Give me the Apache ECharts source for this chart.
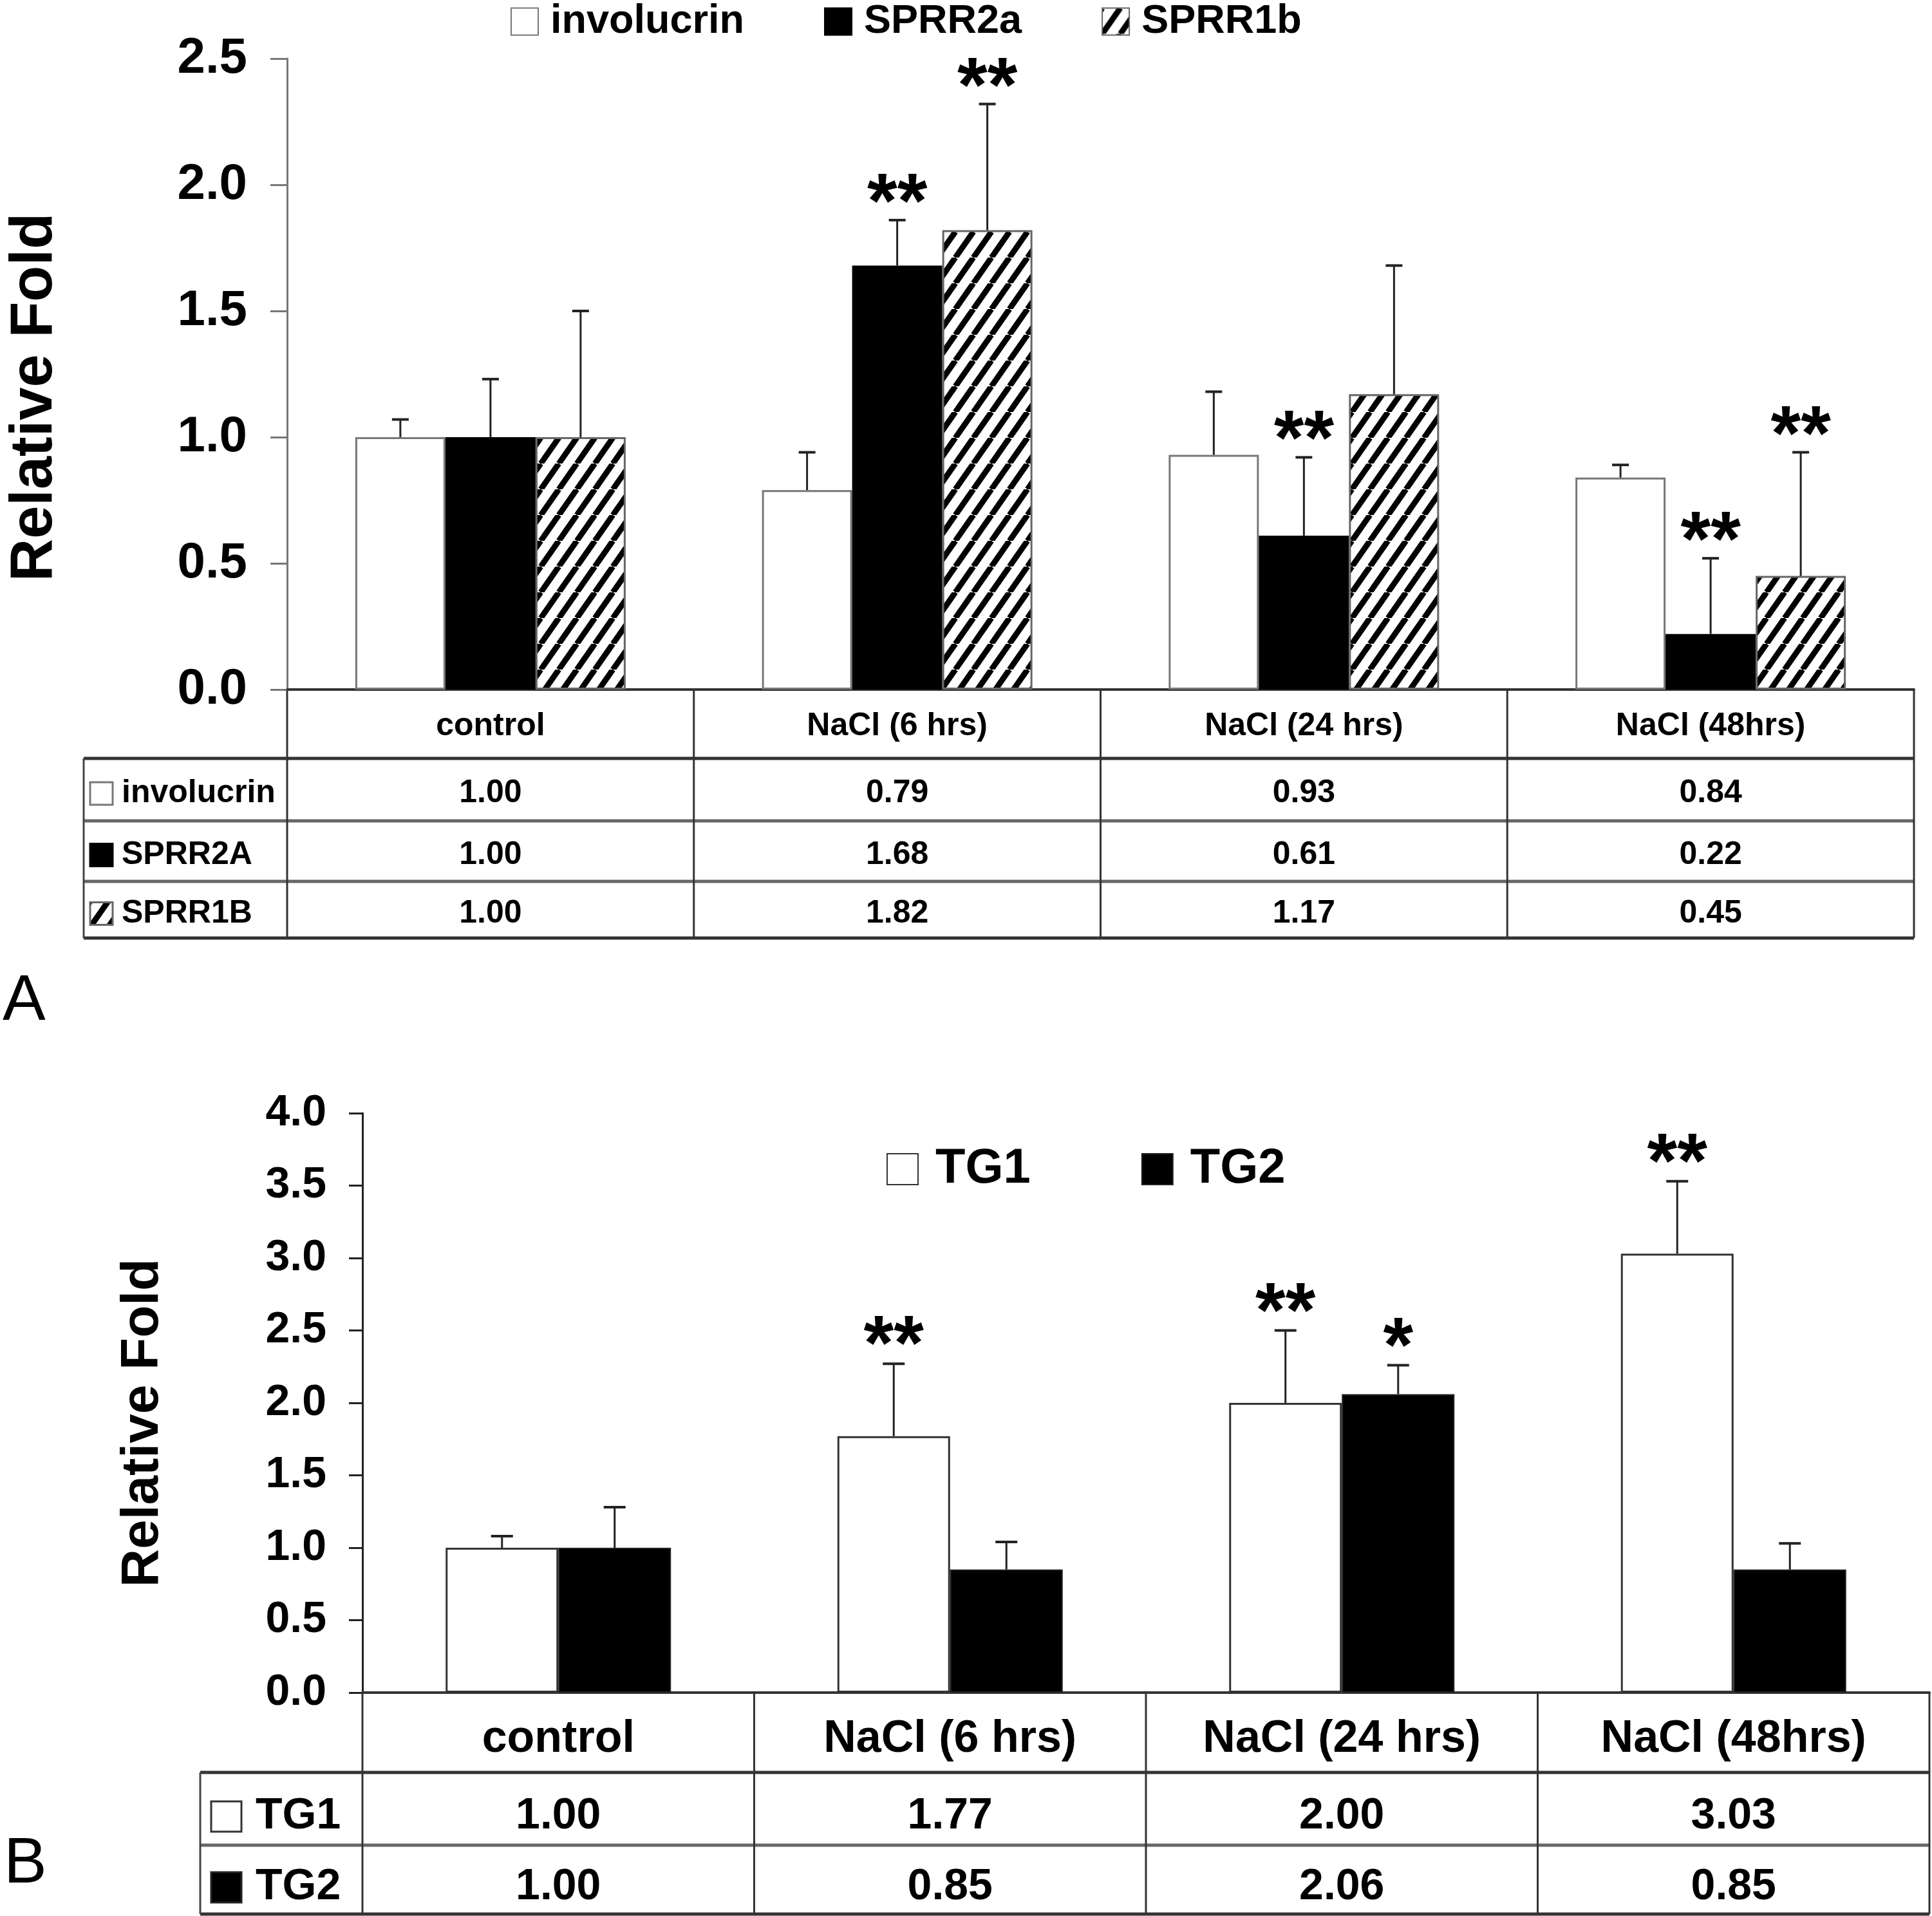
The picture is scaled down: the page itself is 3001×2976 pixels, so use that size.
<!DOCTYPE html>
<html><head><meta charset="utf-8">
<script src="https://cdn.jsdelivr.net/npm/echarts@6/dist/echarts.min.js"></script>
<style>html,body{margin:0;padding:0;background:#fff}#c{width:3001px;height:2976px}</style>
</head><body><div id="c"></div>
<script>
// ---------- data ----------
const categories = ['control', 'NaCl (6 hrs)', 'NaCl (24 hrs)', 'NaCl (48hrs)'];
const legendA = ['involucrin', 'SPRR2a', 'SPRR1b'];
const rowLabelsA = ['involucrin', 'SPRR2A', 'SPRR1B'];
const involucrin = [1.00, 0.79, 0.93, 0.84];
const sprr2a = [1.00, 1.68, 0.61, 0.22];
const sprr1b = [1.00, 1.82, 1.17, 0.45];
const involucrinErrTop = [1.07, 0.94, 1.18, 0.89];
const sprr2aErrTop = [1.23, 1.86, 0.92, 0.52];
const sprr1bErrTop = [1.50, 2.32, 1.68, 0.94];
const involucrinSig = ['', '', '', ''];
const sprr2aSig = ['', '**', '**', '**'];
const sprr1bSig = ['', '**', '', '**'];
const yMaxA = 2.5, yStepA = 0.5;

const legendB = ['TG1', 'TG2'];
const tg1 = [1.00, 1.77, 2.00, 3.03];
const tg2 = [1.00, 0.85, 2.06, 0.85];
const tg1ErrTop = [1.08, 2.27, 2.50, 3.53];
const tg2ErrTop = [1.28, 1.04, 2.26, 1.03];
const tg1Sig = ['', '**', '**', '**'];
const tg2Sig = ['', '', '*', ''];
const yMaxB = 4.0, yStepB = 0.5;

// ---------- layout ----------
const FONT = '"Liberation Sans", Arial, Helvetica, sans-serif';
const A = {left: 446, right: 2973, top: 91, bottom: 1071, tableLeft: 130, rows: [1071, 1178, 1275, 1369, 1457], barW: 140};
const B = {left: 563, right: 2997, top: 1729, bottom: 2629, tableLeft: 311, rows: [2629, 2753, 2866, 2973], barW: 175};

function hatchCanvas() {
  const w = 28, h = 40;
  const c = document.createElement('canvas');
  c.width = w; c.height = h;
  const g = c.getContext('2d');
  g.fillStyle = '#fff'; g.fillRect(0, 0, w, h);
  g.strokeStyle = '#000'; g.lineWidth = 9;
  for (let k = -1; k <= 1; k++) {
    g.beginPath(); g.moveTo(k * w, h); g.lineTo(k * w + w, 0); g.stroke();
  }
  return c;
}
const HATCH = {image: hatchCanvas(), repeat: 'repeat'};

const styleA = [
  {color: '#fff', borderColor: '#777', borderWidth: 3},
  {color: '#000', borderColor: '#000', borderWidth: 2},
  {color: HATCH, borderColor: '#666', borderWidth: 3}
];
const styleB = [
  {color: '#fff', borderColor: '#333', borderWidth: 3},
  {color: '#000', borderColor: '#222', borderWidth: 2}
];

function barSeries(name, vals, style, axisIdx, barW) {
  return {type: 'bar', name, data: vals, xAxisIndex: axisIdx, yAxisIndex: axisIdx,
    barWidth: barW, barGap: '0%', itemStyle: style, z: 2, silent: true};
}
function errSeries(name, vals, tops, sigs, idx, n, axisIdx, barW, capW, starFont, starOff) {
  return {
    type: 'custom', name: name + ' err', xAxisIndex: axisIdx, yAxisIndex: axisIdx, z: 5, silent: true,
    encode: {x: 0, y: [1, 2]},
    data: vals.map((v, i) => [i, v, tops[i]]),
    renderItem(params, api) {
      const base = api.coord([api.value(0), api.value(1)]);
      const top = api.coord([api.value(0), api.value(2)]);
      const x = base[0] + (idx - (n - 1) / 2) * barW;
      const ch = [
        {type: 'line', shape: {x1: x, y1: base[1], x2: x, y2: top[1]}, style: {stroke: '#222', lineWidth: 3}},
        {type: 'line', shape: {x1: x - capW / 2, y1: top[1], x2: x + capW / 2, y2: top[1]}, style: {stroke: '#222', lineWidth: 4}}
      ];
      const s = sigs[params.dataIndex];
      if (s) ch.push({type: 'text', style: {text: s, x: x, y: top[1] - starOff, align: 'center', verticalAlign: 'middle',
        font: 'bold ' + starFont + 'px ' + FONT, fill: '#000'}});
      return {type: 'group', children: ch};
    }
  };
}

// ---------- table graphics ----------
function tableGraphics(P, rowNames, rowValues, rowStyles, fontSize, iconSize, iconX, textX, nCat, dy) {
  const g = [];
  const catW = (P.right - P.left) / nCat;
  const hl = (x1, x2, y, c, w) => g.push({type: 'line', shape: {x1, y1: y, x2, y2: y}, style: {stroke: c, lineWidth: w}, z: 10});
  const vl = (x, y1, y2, c, w) => g.push({type: 'line', shape: {x1: x, y1, x2: x, y2}, style: {stroke: c, lineWidth: w}, z: 10});
  for (let r = 1; r < P.rows.length; r++) hl(P.tableLeft, P.right, P.rows[r], r === 1 || r === P.rows.length - 1 ? '#333' : '#666', 5);
  vl(P.tableLeft, P.rows[1], P.rows[P.rows.length - 1], '#444', 3);
  for (let i = 0; i <= nCat; i++) vl(P.left + i * catW, P.rows[0], P.rows[P.rows.length - 1], '#333', 3);
  for (let r = 0; r < rowNames.length; r++) {
    const cy = (P.rows[r + 1] + P.rows[r + 2]) / 2 + dy;
    g.push({type: 'rect', shape: {x: iconX, y: cy - iconSize / 2, width: iconSize, height: iconSize},
      style: {fill: rowStyles[r].color, stroke: rowStyles[r].borderColor, lineWidth: 3}, z: 10});
    g.push({type: 'text', style: {text: rowNames[r], x: textX, y: cy, align: 'left', verticalAlign: 'middle',
      font: 'bold ' + fontSize + 'px ' + FONT, fill: '#000'}, z: 10});
    for (let i = 0; i < nCat; i++) {
      g.push({type: 'text', style: {text: rowValues[r][i].toFixed(2), x: P.left + (i + 0.5) * catW, y: cy,
        align: 'center', verticalAlign: 'middle', font: 'bold ' + fontSize + 'px ' + FONT, fill: '#000'}, z: 10});
    }
  }
  return g;
}

const graphics = [].concat(
  tableGraphics(A, rowLabelsA, [involucrin, sprr2a, sprr1b], styleA, 50, 35, 140, 189, categories.length, 6),
  tableGraphics(B, legendB, [tg1, tg2], styleB, 68, 47, 328, 397, categories.length, 12),
  [
    {type: 'text', style: {text: 'A', x: 4, y: 1556, verticalAlign: 'middle', font: '100px ' + FONT, fill: '#000'}},
    {type: 'text', style: {text: 'B', x: 6, y: 2896, verticalAlign: 'middle', font: '100px ' + FONT, fill: '#000'}}
  ]
);

function yAxis(P, max, step, gridIdx, labelSize, labelMargin, tickLen, lineColor, nameSize, nameGap, namePad) {
  return {
    type: 'value', gridIndex: gridIdx, min: 0, max: max, interval: step,
    name: 'Relative Fold', nameLocation: 'middle', nameRotate: 90, nameGap: nameGap,
    nameTextStyle: {fontFamily: FONT, fontWeight: 'bold', fontSize: nameSize, color: '#000', padding: namePad},
    axisLine: {show: true, lineStyle: {color: lineColor, width: 3}},
    axisTick: {show: true, length: tickLen, lineStyle: {color: lineColor, width: 3}},
    axisLabel: {fontFamily: FONT, fontWeight: 'bold', fontSize: labelSize, color: '#000', margin: labelMargin,
      formatter: v => v.toFixed(1)},
    splitLine: {show: false}
  };
}
function xAxis(gridIdx, labelSize, margin) {
  return {
    type: 'category', gridIndex: gridIdx, data: categories,
    axisLine: {show: true, lineStyle: {color: '#333', width: 4}},
    axisTick: {show: false},
    axisLabel: {interval: 0, fontFamily: FONT, fontWeight: 'bold', fontSize: labelSize, color: '#000', margin: margin}
  };
}

const chart = echarts.init(document.getElementById('c'), null, {renderer: 'canvas'});
chart.setOption({
  backgroundColor: '#fff',
  animation: false,
  grid: [
    {left: A.left, width: A.right - A.left, top: A.top, height: A.bottom - A.top},
    {left: B.left, width: B.right - B.left, top: B.top, height: B.bottom - B.top}
  ],
  legend: [
    {data: legendA, left: 793, top: 2, padding: 0, icon: 'rect', itemWidth: 42, itemHeight: 42, itemGap: 124,
      textStyle: {fontFamily: FONT, fontWeight: 'bold', fontSize: 63, color: '#000', lineHeight: 63, padding: [0, 0, 0, 14]},
      selectedMode: false},
    {data: legendB, left: 1377, top: 1778, padding: 0, icon: 'rect', itemWidth: 48, itemHeight: 48, itemGap: 172,
      textStyle: {fontFamily: FONT, fontWeight: 'bold', fontSize: 76, color: '#000', lineHeight: 76, padding: [0, 0, 0, 22]},
      selectedMode: false}
  ],
  xAxis: [xAxis(0, 50, 32), xAxis(1, 70, 38)],
  yAxis: [
    yAxis(A, yMaxA, yStepA, 0, 78, 62, 26, '#777', 92, 345, [0, 72, 0, 0]),
    yAxis(B, yMaxB, yStepB, 1, 68, 56, 21, '#222', 82, 300, [0, 62, 0, 0])
  ],
  series: [
    barSeries('involucrin', involucrin, styleA[0], 0, A.barW),
    barSeries('SPRR2a', sprr2a, styleA[1], 0, A.barW),
    barSeries('SPRR1b', sprr1b, styleA[2], 0, A.barW),
    errSeries('involucrin', involucrin, involucrinErrTop, involucrinSig, 0, 3, 0, A.barW, 26, 120, 22),
    errSeries('SPRR2a', sprr2a, sprr2aErrTop, sprr2aSig, 1, 3, 0, A.barW, 26, 120, 22),
    errSeries('SPRR1b', sprr1b, sprr1bErrTop, sprr1bSig, 2, 3, 0, A.barW, 26, 120, 22),
    barSeries('TG1', tg1, styleB[0], 1, B.barW),
    barSeries('TG2', tg2, styleB[1], 1, B.barW),
    errSeries('TG1', tg1, tg1ErrTop, tg1Sig, 0, 2, 1, B.barW, 34, 120, 24),
    errSeries('TG2', tg2, tg2ErrTop, tg2Sig, 1, 2, 1, B.barW, 34, 120, 24)
  ],
  graphic: graphics
});
</script>
</body></html>
